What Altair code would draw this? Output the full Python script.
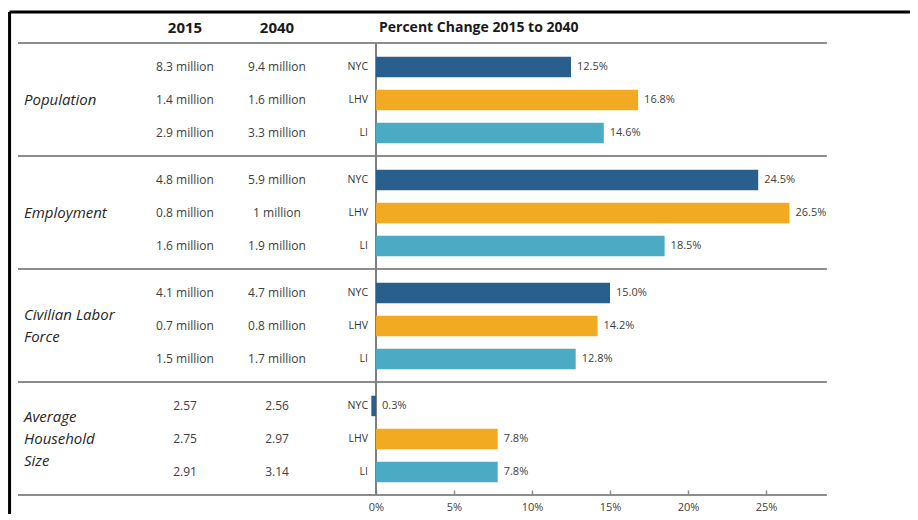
import altair as alt
import pandas as pd

# ---------------- data ----------------
groups = ["Population", "Employment", "Civilian Labor\nForce", "Average\nHousehold\nSize"]
regions = ["NYC", "LHV", "LI"]
values_2015 = [
    ["8.3 million", "1.4 million", "2.9 million"],
    ["4.8 million", "0.8 million", "1.6 million"],
    ["4.1 million", "0.7 million", "1.5 million"],
    ["2.57", "2.75", "2.91"],
]
values_2040 = [
    ["9.4 million", "1.6 million", "3.3 million"],
    ["5.9 million", "1 million", "1.9 million"],
    ["4.7 million", "0.8 million", "1.7 million"],
    ["2.56", "2.97", "3.14"],
]
pct_change = [
    [12.5, 16.8, 14.6],
    [24.5, 26.5, 18.5],
    [15.0, 14.2, 12.8],
    [-0.3, 7.8, 7.8],
]
tick_values = [0, 5, 10, 15, 20, 25]
headers = ["2015", "2040", "Percent Change 2015 to 2040"]
region_colors = ["#295F8C", "#F2AA22", "#4BABC4"]

# ---------------- layout ----------------
W, H = 902, 486
X_DOMAIN = [-23.59, 34.23]          # percent units across the whole width
Y_DOMAIN = [-1.788, 12.94]          # row units (row spacing = 1)
GROUP_STEP = 3.424
BAR_HALF = 0.31
SEP_OFFSET = -0.727
HEADER_Y = -1.18
BORDER_Y = -1.667
BORDER_X = -23.49
SEP_X = [-22.95, 28.9]
LINE_STEP = 0.68                    # line height of wrapped category labels, row units
COL_LABEL_X, COL_2015_X, COL_2040_X, COL_REGION_X, COL_PCT_X = 16, 177, 269, 360, 371
FONT = "Open Sans"
TXT = "#404040"
GRID = "#8c8c8c"

xs = alt.Scale(domain=X_DOMAIN, nice=False, zero=False)
ys = alt.Scale(domain=Y_DOMAIN, nice=False, zero=False, reverse=True)
xaxis = alt.Axis(
    values=tick_values, labelExpr="datum.value + '%'", domain=False, grid=False,
    ticks=True, tickSize=4, tickColor=GRID, tickWidth=1.5, offset=-4, labelPadding=7,
    labelFont=FONT, labelFontSize=11, labelColor=TXT, title=None)

rows = []
for g, grp in enumerate(groups):
    for r, reg in enumerate(regions):
        y = g * GROUP_STEP + r
        rows.append(dict(group=grp, region=reg, y=y, y0=y - BAR_HALF, y1=y + BAR_HALF,
                         pct=pct_change[g][r], v15=values_2015[g][r], v40=values_2040[g][r]))
rows_df = pd.DataFrame(rows)

label_lines = []
for g, grp in enumerate(groups):
    parts = grp.split("\n")
    centre = g * GROUP_STEP + 1
    for i, part in enumerate(parts):
        label_lines.append(dict(label=part, y=centre + (i - (len(parts) - 1) / 2) * LINE_STEP))
groups_df = pd.DataFrame(label_lines)
seps_df = pd.DataFrame({"y": [k * GROUP_STEP + SEP_OFFSET for k in range(len(groups) + 1)]})
head_df = pd.DataFrame({"text": headers, "y": [HEADER_Y] * 3})

base = alt.Chart(rows_df)

bars = base.mark_bar().encode(
    x=alt.X("pct:Q", scale=xs, axis=xaxis),
    x2=alt.datum(0),
    y=alt.Y("y0:Q", scale=ys, axis=None),
    y2="y1:Q",
    color=alt.Color("region:N", scale=alt.Scale(domain=regions, range=region_colors), legend=None),
)

bar_labels = base.transform_calculate(
    lx="max(datum.pct, 0)", txt="format(abs(datum.pct), '.1f') + '%'"
).mark_text(align="left", baseline="middle", dx=6, font=FONT, fontSize=11, color=TXT).encode(
    x=alt.X("lx:Q", scale=xs, axis=xaxis),
    y=alt.Y("y:Q", scale=ys, axis=None),
    text="txt:N",
)

seps = alt.Chart(seps_df).mark_rule(color=GRID, strokeWidth=2).encode(
    x=alt.datum(SEP_X[0], scale=xs, axis=xaxis), x2=alt.datum(SEP_X[1]),
    y=alt.Y("y:Q", scale=ys, axis=None),
)

zero_line = alt.Chart(seps_df).mark_rule(color="#7f7f7f", strokeWidth=2).encode(
    x=alt.datum(0, scale=xs, axis=xaxis),
    y=alt.Y("min(y):Q", scale=ys, axis=None),
    y2="max(y):Q",
)

border_top = alt.Chart(head_df.head(1)).mark_rule(color="black", strokeWidth=3).encode(
    x=alt.datum(BORDER_X, scale=xs, axis=xaxis), x2=alt.datum(X_DOMAIN[1] + 2),
    y=alt.datum(BORDER_Y, scale=ys, axis=None),
)
border_left = alt.Chart(head_df.head(1)).mark_rule(color="black", strokeWidth=3).encode(
    x=alt.datum(BORDER_X, scale=xs, axis=xaxis),
    y=alt.datum(BORDER_Y, scale=ys, axis=None), y2=alt.datum(Y_DOMAIN[1] + 2),
)

cat_labels = alt.Chart(groups_df).mark_text(
    align="left", baseline="middle", font=FONT, fontSize=15, fontStyle="italic", color="#262626",
).encode(x=alt.value(COL_LABEL_X), y=alt.Y("y:Q", scale=ys, axis=None), text="label:N")

col15 = base.mark_text(align="center", baseline="middle", font=FONT, fontSize=12, color=TXT).encode(
    x=alt.value(COL_2015_X), y=alt.Y("y:Q", scale=ys, axis=None), text="v15:N")
col40 = base.mark_text(align="center", baseline="middle", font=FONT, fontSize=12, color=TXT).encode(
    x=alt.value(COL_2040_X), y=alt.Y("y:Q", scale=ys, axis=None), text="v40:N")
reg_labels = base.mark_text(align="right", baseline="middle", font=FONT, fontSize=10.5, color="#333333").encode(
    x=alt.value(COL_REGION_X), y=alt.Y("y:Q", scale=ys, axis=None), text="region:N")

h15 = alt.Chart(head_df).transform_filter(alt.datum.text == headers[0]).mark_text(
    align="center", baseline="middle", font=FONT, fontSize=15, fontWeight="bold", color="#1a1a1a"
).encode(x=alt.value(COL_2015_X), y=alt.Y("y:Q", scale=ys, axis=None), text="text:N")
h40 = alt.Chart(head_df).transform_filter(alt.datum.text == headers[1]).mark_text(
    align="center", baseline="middle", font=FONT, fontSize=15, fontWeight="bold", color="#1a1a1a"
).encode(x=alt.value(COL_2040_X), y=alt.Y("y:Q", scale=ys, axis=None), text="text:N")
hpct = alt.Chart(head_df).transform_filter(alt.datum.text == headers[2]).mark_text(
    align="left", baseline="middle", font=FONT, fontSize=14, fontWeight="bold", color="#1a1a1a"
).encode(x=alt.value(COL_PCT_X), y=alt.Y("y:Q", scale=ys, axis=None), text="text:N")

chart = alt.layer(
    seps, zero_line, bars, bar_labels, cat_labels, col15, col40, reg_labels,
    h15, h40, hpct, border_top, border_left,
).properties(
    width=W, height=H,
    autosize=alt.AutoSizeParams(type="none"),
    padding={"left": 0, "top": 0, "right": 0, "bottom": 20},
    background="white",
).configure_view(stroke=None)

chart.save("out.html", embed_options={"renderer": "svg", "actions": False})
